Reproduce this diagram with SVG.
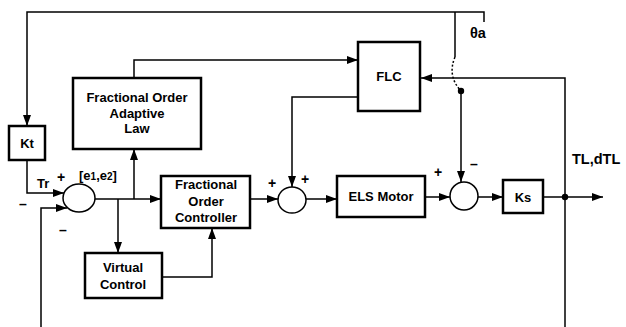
<svg xmlns="http://www.w3.org/2000/svg" width="626" height="327" viewBox="0 0 626 327">
<defs>
<style>
.box{fill:#fff;stroke:#000;stroke-width:2.5}
.sum{fill:#fff;stroke:#000;stroke-width:1.5}
.ln{fill:none;stroke:#000;stroke-width:1.5}
.ar{marker-end:url(#ah)}
text{font-family:"Liberation Sans",Arial,sans-serif;font-weight:bold;font-size:13px;fill:#000}
.c{text-anchor:middle}
.sg{font-size:14px}
.lb{font-size:14.5px}
</style>
<marker id="ah" markerUnits="userSpaceOnUse" markerWidth="12" markerHeight="8" refX="11" refY="4" orient="auto">
<path d="M0,0 L11,4 L0,8 z" fill="#000"/>
</marker>
</defs>
<rect width="626" height="327" fill="#fff"/>
<g id="connectors">
<path class="ln" d="M484,22 V12 H27 V126" marker-end="url(#ah)"/>
<path class="ln" d="M455,12 V57"/>
<path class="ln" d="M455,57 Q447,76 461,91" stroke-dasharray="2,2"/>
<circle cx="461" cy="91" r="3.2" fill="#000"/>
<path class="ln ar" d="M461,91 V182"/>
<path class="ln ar" d="M27,160 V193 H64"/>
<path class="ln ar" d="M41,327 V208 H67"/>
<path class="ln ar" d="M95,199 H161"/>
<path class="ln ar" d="M118,199 V253"/>
<path class="ln ar" d="M134,199 V149"/>
<path class="ln ar" d="M134,78 V60 H358"/>
<path class="ln ar" d="M358,97 H292 V187"/>
<path class="ln ar" d="M565,197 V78 H421"/>
<path class="ln ar" d="M162,277 H212 V228"/>
<path class="ln ar" d="M250,199 H278"/>
<path class="ln ar" d="M306,199 H337"/>
<path class="ln ar" d="M425,197 H450"/>
<path class="ln ar" d="M478,197 H503"/>
<path class="ln ar" d="M543,197 H603"/>
<path class="ln" d="M565,197 V327"/>
<circle cx="565" cy="197" r="3.2" fill="#000"/>
</g>
<g id="kt">
<rect class="box" x="9" y="126" width="36" height="34"/>
<text class="c" x="27" y="147.5">Kt</text>
</g>
<g id="adaptive-law">
<rect class="box" x="73" y="78" width="128" height="71"/>
<text class="c" x="137" y="102">Fractional Order</text>
<text class="c" x="137" y="118">Adaptive</text>
<text class="c" x="137" y="133">Law</text>
</g>
<g id="flc">
<rect class="box" x="358" y="42" width="62" height="69"/>
<text class="c" x="389" y="80.5">FLC</text>
</g>
<g id="sum1">
<ellipse class="sum" cx="79" cy="198" rx="16" ry="14"/>
</g>
<g id="foc">
<rect class="box" x="161" y="176" width="89" height="52"/>
<text class="c" x="206" y="189">Fractional</text>
<text class="c" x="206" y="205.5">Order</text>
<text class="c" x="206" y="222">Controller</text>
</g>
<g id="virtual-control">
<rect class="box" x="85" y="253" width="77" height="45"/>
<text class="c" x="123" y="272">Virtual</text>
<text class="c" x="123" y="289">Control</text>
</g>
<g id="sum2">
<ellipse class="sum" cx="292" cy="200" rx="14" ry="13"/>
</g>
<g id="els-motor">
<rect class="box" x="337" y="176" width="88" height="41"/>
<text class="c" x="381" y="201">ELS Motor</text>
</g>
<g id="sum3">
<ellipse class="sum" cx="464" cy="196" rx="14" ry="14"/>
</g>
<g id="ks">
<rect class="box" x="503" y="180" width="40" height="33"/>
<text class="c" x="523" y="201.5">Ks</text>
</g>
<g id="labels">
<text class="lb" x="470" y="38">θa</text>
<text class="lb" x="572" y="164">TL,dTL</text>
<text x="37" y="187.5" font-size="13.5">Tr</text>
<text x="79" y="179.5" font-size="13.5">[e<tspan font-size="10">1</tspan>,e<tspan font-size="10">2</tspan>]</text>
<text class="c sg" x="61" y="182">+</text>
<text class="c sg" x="23" y="209">–</text>
<text class="c sg" x="63" y="235">–</text>
<text class="c sg" x="272" y="188">+</text>
<text class="c sg" x="305" y="184">+</text>
<text class="c sg" x="438" y="177">+</text>
<text class="c sg" x="474" y="169">–</text>
</g>
</svg>
